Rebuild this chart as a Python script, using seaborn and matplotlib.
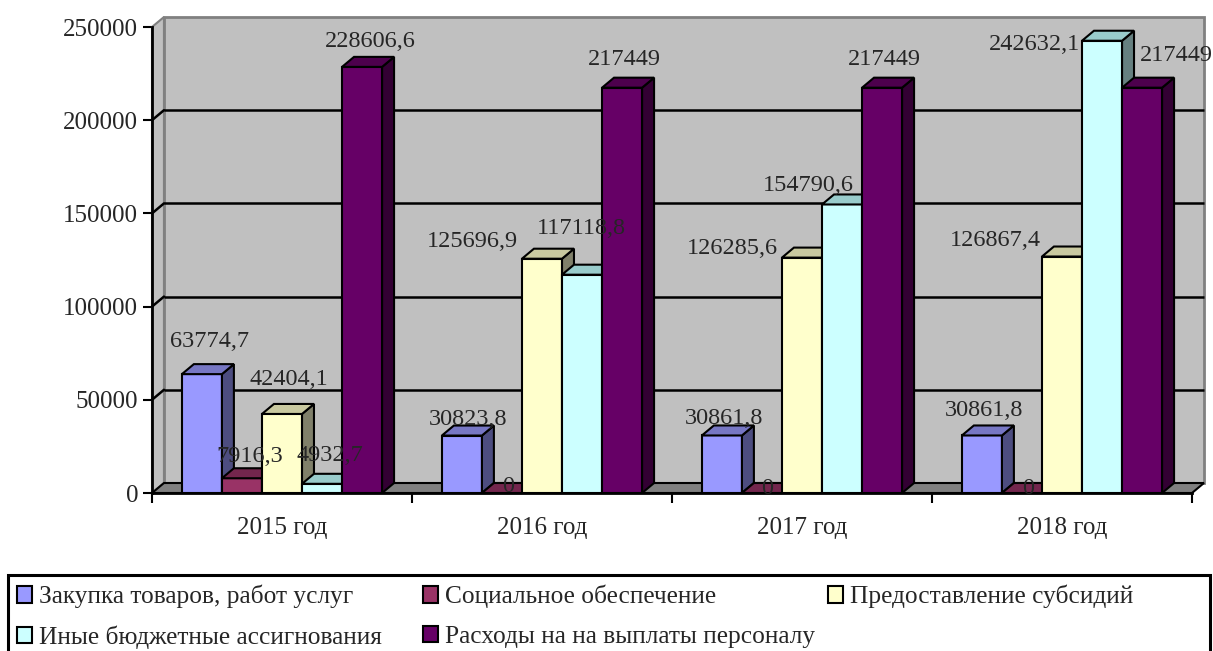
import numpy as np
import pandas as pd
import matplotlib
matplotlib.use("Agg")
import matplotlib.pyplot as plt
from matplotlib.patches import Polygon, Rectangle, Patch
import seaborn as sns

# Data
YEARS = ["2015 год", "2016 год", "2017 год", "2018 год"]
SERIES = ["Закупка товаров, работ услуг", "Социальное обеспечение",
          "Предоставление субсидий", "Иные бюджетные ассигнования",
          "Расходы на на выплаты персоналу"]
ZAKUPKA = [63774.7, 30823.8, 30861.8, 30861.8]
SOCIAL = [7916.3, 0, 0, 0]
SUBSIDII = [42404.1, 125696.9, 126285.6, 126867.4]
INYE = [4932.7, 117118.8, 154790.6, 242632.1]
PERSONAL = [228606.6, 217449, 217449, 217449]
Y_TICKS = [0, 50000, 100000, 150000, 200000, 250000]

# Style
FRONT = ["#9999FF", "#993366", "#FFFFCC", "#CCFFFF", "#660066"]
TOP = ["#7777C4", "#73264D", "#C9C9A0", "#99CCCC", "#4D004D"]
SIDE = ["#4D4D80", "#4D1A33", "#80806A", "#668080", "#330033"]
WALL = "#C0C0C0"
FLOOR = "#808080"
DX = 0.046      # depth of the 3d look, x data units
DY = 5365       # depth of the 3d look, y data units
FS = 17.5
# label shifts in pixels (right, down) from bar top centre, per series / year
LABEL_SHIFT = [
    [(8, -36), (6, -19), (2, -20), (2, -28)],
    [(8, -25), (6, -9), (5, -8), (6, -8)],
    [(7, -37), (-70, -20), (-70, -12), (-67, -19)],
    [(8, -31), (-1, -49), (-34, -22), (-68, 1)],
    [(8, -28), (2, -31), (2, -31), (34, -35)],
]


def fmt(v):
    if v == int(v):
        return str(int(v))
    return f"{v:.1f}".replace(".", ",")


def main():
    sns.set_style("white")
    plt.rcParams['font.family'] = ['Liberation Serif', 'DejaVu Serif']

    values = [ZAKUPKA, SOCIAL, SUBSIDII, INYE, PERSONAL]
    df = pd.DataFrame({
        "year": YEARS * len(SERIES),
        "series": np.repeat(SERIES, len(YEARS)),
        "value": np.concatenate(values),
    })

    fig = plt.figure(figsize=(12.13, 6.51), dpi=100)
    ax = fig.add_axes([152 / 1213, 158 / 651, 1040 / 1213, 466 / 651])

    sns.barplot(data=df, x="year", y="value", hue="series", order=YEARS,
                hue_order=SERIES, palette=FRONT, saturation=1, width=0.77,
                edgecolor="black", linewidth=1.5, errorbar=None,
                legend=False, ax=ax)

    ax.set_xlim(-0.5, 3.5)
    ax.set_ylim(0, 250000)
    ax.patch.set_visible(False)

    bars = list(ax.patches)
    for p in bars:
        x0, w, h = p.get_x(), p.get_width(), p.get_height()
        cx = x0 + w / 2
        yi = int(round(cx))
        si = int(round((cx - yi + 0.77 / 2 - w / 2) / w))
        base = 3 + si * 0.1
        p.set_zorder(base)
        side = Polygon([(x0 + w, 0), (x0 + w + DX, DY), (x0 + w + DX, h + DY), (x0 + w, h)],
                       closed=True, facecolor=SIDE[si], edgecolor="black", lw=1.5,
                       zorder=base + 0.05, clip_on=False)
        top = Polygon([(x0, h), (x0 + w, h), (x0 + w + DX, h + DY), (x0 + DX, h + DY)],
                      closed=True, facecolor=TOP[si], edgecolor="black", lw=1.5,
                      zorder=base + 0.05, clip_on=False)
        ax.add_patch(side)
        ax.add_patch(top)
        sx, sy = LABEL_SHIFT[si][yi]
        ax.annotate(fmt(h), xy=(cx, h), xytext=(sx, -(sy + 8.5)),
                    textcoords="offset pixels", ha="center", va="baseline",
                    fontsize=FS, zorder=10, annotation_clip=False)

    # walls and floor
    x_lo, x_hi = ax.get_xlim()
    y_top = Y_TICKS[-1]
    ax.add_patch(Rectangle((x_lo + DX, DY), x_hi - x_lo, y_top, facecolor=WALL,
                           edgecolor=FLOOR, lw=2, zorder=0.5, clip_on=False))
    ax.add_patch(Polygon([(x_lo, 0), (x_lo + DX, DY), (x_lo + DX, y_top + DY), (x_lo, y_top)],
                         closed=True, facecolor=WALL, edgecolor=FLOOR, lw=1.5,
                         zorder=0.6, clip_on=False))
    ax.add_patch(Polygon([(x_lo, 0), (x_hi, 0), (x_hi + DX, DY), (x_lo + DX, DY)],
                         closed=True, facecolor=FLOOR, edgecolor="black", lw=1.5,
                         zorder=0.7, clip_on=False))
    for t in Y_TICKS[1:-1]:
        ax.plot([x_lo + DX, x_hi + DX], [t + DY, t + DY], color="black", lw=1.8,
                zorder=1, clip_on=False, solid_capstyle="butt")
        ax.plot([x_lo, x_lo + DX], [t, t + DY], color="black", lw=1.8,
                zorder=1, clip_on=False)

    for side_name in ["top", "right"]:
        ax.spines[side_name].set_visible(False)
    for side_name in ["left", "bottom"]:
        ax.spines[side_name].set_color("black")
        ax.spines[side_name].set_linewidth(2)
        ax.spines[side_name].set_zorder(2)

    ax.set_xlabel("")
    ax.set_ylabel("")
    ax.set_yticks(Y_TICKS)
    ax.set_yticklabels([str(t) for t in Y_TICKS])
    ax.set_xticks(range(len(YEARS)))
    ax.set_xticklabels(YEARS)
    ax.set_xticks(np.arange(-0.5, len(YEARS), 1.0), minor=True)
    ax.tick_params(axis="x", which="major", length=0, pad=17.5, labelsize=FS + 0.5)
    ax.tick_params(axis="x", which="minor", length=7, width=1.5, direction="out",
                   color="black", bottom=True)
    ax.tick_params(axis="y", length=6.5, width=1.5, direction="out", pad=3.5,
                   color="black", left=True, labelsize=FS + 0.5)

    # legend, laid out in three columns like the original
    handles = [Patch(facecolor=FRONT[i], edgecolor="black", lw=1.5) for i in range(len(SERIES))]
    columns = [([0, 3], 17), ([1, 4], 423), ([2], 828)]
    for idx, x_px in columns:
        fig.legend([handles[i] for i in idx], [SERIES[i] for i in idx],
                   loc="upper left", bbox_to_anchor=(x_px / 1213, 1 - 585 / 651),
                   frameon=False, borderpad=0, borderaxespad=0, fontsize=18.3,
                   handlelength=0.6, handleheight=0.6, handletextpad=0.25,
                   labelspacing=0.68)
    fig.add_artist(Rectangle((8 / 1213, -0.05), 1202 / 1213, 0.05 + 1 - 575 / 651,
                             transform=fig.transFigure, fill=False,
                             edgecolor="black", lw=2.2, clip_on=False))

    fig.savefig("out.png", dpi=100)
    plt.close(fig)


if __name__ == "__main__":
    main()
